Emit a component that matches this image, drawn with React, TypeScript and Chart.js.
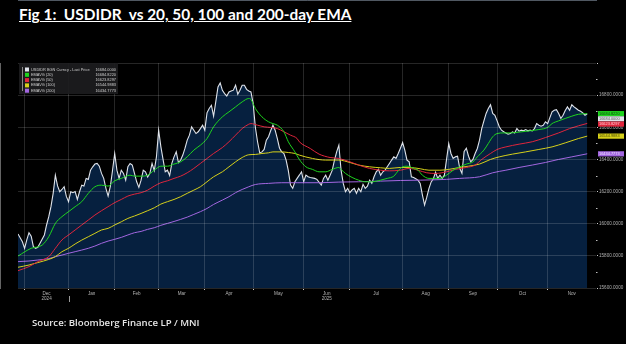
import React, { useEffect, useRef } from "react";
import { Chart, registerables } from "chart.js";

Chart.register(...registerables);

// ---- axis / label data ----
const monthLabels = ["Dec", "Jan", "Feb", "Mar", "Apr", "May", "Jun", "Jul", "Aug", "Sep", "Oct", "Nov"];
const monthStarts = [3, 23, 44, 64, 85, 107, 130, 151, 175, 196, 218, 241]; // trading-day index of month starts
const yearLabels = ["2024", "2025"];
const yearUnderMonth = [0, 6];
const xMaxDay = 263;
const yMin = 15600;
const yMax = 17000;
const yStep = 200;

// ---- series (trading-day index, IDR) ----
const priceDays = [0,2,3,4,5,6,7,8,9,10,12,13,14,15,16,17,18,19,20,21,22,23,24,25,26,27,28,29,30,31,32,33,34,35,36,37,38,39,40,41,42,43,44,45,46,47,48,49,50,51,52,53,54,55,56,57,58,59,60,61,62,63,64,65,66,67,68,69,70,71,72,73,74,75,76,77,78,79,80,81,82,83,84,85,86,87,88,89,90,91,92,93,94,95,96,97,98,99,100,101,102,103,104,105,106,107,108,109,110,111,112,113,114,115,116,117,118,119,120,121,122,123,124,125,126,127,128,129,130,131,132,133,135,136,138,139,140,141,142,143,144,145,146,147,148,149,150,151,152,153,154,155,156,157,158,159,160,161,162,163,164,165,166,167,168,169,170,171,172,173,174,175,176,177,178,179,180,181,182,183,184,185,186,187,188,189,190,191,192,193,194,195,196,197,198,199,200,201,202,203,204,205,206,207,208,209,210,211,212,213,214,215,216,217,218,219,220,221,222,223,224,225,226,227,228,229,230,231,232,233,234,235,236,237,238,239,240,241,242,243,244,245,246,247,248,249,250,251,252,253,254,255,256,257,258,259];
const priceValues = [15936,15888,15847,15899,15944,15923,15857,15847,15853,15878,15930,15992,16044,16106,16189,16302,16235,16199,16213,16230,16170,16137,16199,16193,16200,16151,16199,16240,16234,16282,16276,16333,16354,16371,16375,16358,16313,16282,16220,16172,16230,16330,16437,16333,16282,16333,16313,16271,16354,16375,16365,16313,16261,16226,16271,16333,16323,16290,16313,16375,16330,16416,16582,16480,16400,16323,16333,16300,16375,16416,16447,16380,16396,16427,16470,16520,16551,16603,16582,16561,16572,16592,16613,16582,16690,16717,16737,16670,16760,16851,16876,16830,16810,16795,16820,16826,16831,16862,16806,16831,16862,16862,16836,16826,16820,16748,16600,16510,16440,16447,16462,16520,16541,16580,16613,16582,16530,16470,16447,16437,16396,16330,16240,16220,16261,16282,16302,16323,16261,16302,16292,16288,16282,16276,16240,16282,16302,16271,16302,16333,16396,16447,16489,16333,16251,16199,16220,16193,16210,16220,16189,16220,16199,16245,16220,16234,16271,16251,16292,16323,16338,16302,16323,16333,16354,16375,16396,16416,16406,16437,16470,16505,16458,16396,16385,16292,16287,16280,16271,16251,16180,16116,16165,16220,16260,16280,16320,16282,16302,16282,16302,16400,16499,16437,16406,16416,16420,16345,16313,16450,16470,16420,16385,16400,16437,16468,16520,16592,16640,16686,16717,16740,16686,16675,16640,16603,16582,16572,16565,16557,16561,16572,16565,16592,16576,16582,16578,16586,16578,16582,16578,16592,16623,16613,16607,16613,16634,16623,16660,16696,16706,16710,16686,16655,16675,16705,16727,16706,16740,16727,16717,16706,16700,16690,16675,16684];

const ema20Days = [0,6,11,14,17,20,23,26,29,32,35,38,41,44,47,51,53,56,59,62,65,68,71,74,77,80,83,86,89,93,96,99,102,105,106,108,111,114,116,118,121,123,126,128,131,134,137,140,143,146,147,149,152,155,158,161,165,168,171,173,175,177,180,182,184,187,189,192,195,198,201,204,207,209,212,214,216,218,221,224,228,233,237,241,243,246,249,252,255,259];
const ema20Values = [15799,15847,15867,15919,16002,16044,16075,16106,16137,16189,16230,16240,16234,16267,16282,16302,16296,16296,16302,16333,16358,16358,16371,16385,16416,16458,16489,16530,16603,16665,16696,16727,16758,16779,16773,16717,16665,16634,16623,16613,16572,16510,16447,16400,16354,16338,16323,16323,16338,16350,16338,16313,16288,16271,16261,16261,16271,16282,16296,16329,16354,16358,16344,16333,16302,16282,16282,16282,16302,16333,16354,16371,16385,16416,16458,16499,16541,16561,16565,16565,16570,16578,16586,16599,16623,16640,16655,16669,16681,16685];

const ema50Days = [0,5,9,14,17,20,23,26,29,32,35,38,41,44,47,50,53,56,59,62,65,68,71,74,77,80,83,86,89,93,96,99,102,105,106,109,112,115,118,121,124,127,128,133,137,142,146,151,155,160,165,169,174,178,182,186,190,195,199,204,208,211,215,218,222,228,234,240,246,251,255,259];
const ema50Values = [15708,15733,15764,15795,15847,15899,15930,15961,15992,16023,16054,16081,16106,16131,16151,16172,16184,16193,16209,16234,16255,16267,16282,16296,16317,16344,16375,16406,16437,16474,16510,16551,16592,16619,16623,16613,16603,16599,16592,16572,16551,16530,16510,16468,16433,16412,16406,16385,16365,16344,16333,16329,16333,16344,16333,16317,16313,16323,16338,16350,16365,16400,16437,16462,16478,16495,16510,16536,16565,16592,16609,16624];

const ema100Days = [0,5,9,14,17,20,23,26,29,32,35,38,41,44,47,50,53,56,59,62,65,68,71,74,77,80,83,86,89,93,96,99,102,105,108,111,114,116,120,123,126,128,134,140,146,151,155,160,165,169,174,178,183,187,192,196,201,205,210,215,219,225,231,237,243,249,255,259];
const ema100Values = [15729,15743,15758,15778,15795,15826,15847,15874,15898,15919,15940,15961,15971,15992,16012,16033,16048,16064,16081,16099,16122,16137,16151,16168,16189,16209,16230,16261,16292,16323,16354,16385,16412,16429,16431,16437,16441,16447,16447,16443,16437,16427,16406,16396,16396,16381,16365,16354,16348,16344,16350,16350,16342,16333,16333,16338,16350,16358,16371,16400,16416,16433,16447,16462,16478,16503,16530,16545];

const ema200Days = [0,5,9,14,17,20,23,26,29,32,35,38,41,44,47,50,53,56,59,62,65,68,71,74,77,80,83,86,89,93,96,99,102,105,108,114,120,127,137,146,155,165,174,183,195,201,210,216,222,228,234,240,246,252,259];
const ema200Values = [15764,15768,15774,15783,15795,15805,15816,15826,15836,15847,15861,15878,15892,15903,15915,15930,15944,15952,15965,15975,15990,16002,16014,16027,16041,16058,16075,16095,16120,16147,16168,16193,16213,16230,16244,16251,16255,16255,16255,16259,16261,16265,16269,16271,16276,16282,16292,16317,16333,16350,16365,16381,16400,16416,16435];

// ---- legend / last values ----
const legendNames = ["USDIDR BGN Curncy - Last Price", "EMAVG (20)", "EMAVG (50)", "EMAVG (100)", "EMAVG (200)"];
const legendValues = [16684.0, 16684.822, 16623.8297, 16544.9883, 16434.7773];
const seriesColors = ["#dfe3ea", "#1ed41e", "#e0253c", "#d6d01a", "#a266e0"];
const tagTextColors = ["#555555", "#0b3d0b", "#ffd0d6", "#4a4800", "#f0e4ff"];

const pairs = (xs: number[], ys: number[]) => xs.map((x, i) => ({ x, y: ys[i] }));

const overlayPlugin = {
  id: "overlay",
  afterDraw(chart: any) {
    const ctx = chart.ctx;
    const xs = chart.scales.x;
    const ys = chart.scales.y;
    const area = chart.chartArea;
    ctx.save();

    // x month labels
    ctx.font = '4.6px "Liberation Sans"';
    ctx.fillStyle = "#b5b5b5";
    ctx.textAlign = "center";
    ctx.textBaseline = "middle";
    monthStarts.forEach((s, i) => {
      const e = i + 1 < monthStarts.length ? monthStarts[i + 1] : xMaxDay;
      const x = xs.getPixelForValue((s + e) / 2);
      ctx.fillText(monthLabels[i], x, area.bottom + 6);
    });
    yearLabels.forEach((lbl, i) => {
      const m = yearUnderMonth[i];
      const s = monthStarts[m];
      const e = m + 1 < monthStarts.length ? monthStarts[m + 1] : xMaxDay;
      ctx.fillText(lbl, xs.getPixelForValue((s + e) / 2), area.bottom + 11);
    });
    // year separator at Jan
    const jx = Math.round(xs.getPixelForValue(monthStarts[1])) + 0.5;
    ctx.strokeStyle = "#9a9a9a";
    ctx.lineWidth = 1;
    ctx.beginPath();
    ctx.moveTo(jx, area.bottom + 8);
    ctx.lineTo(jx, area.bottom + 14);
    ctx.stroke();

    // minor y ticks
    ctx.strokeStyle = "#bdbdbd";
    for (let v = yMin + yStep / 2; v < yMax; v += yStep) {
      const y = Math.round(ys.getPixelForValue(v)) + 0.5;
      ctx.beginPath();
      ctx.moveTo(area.right, y);
      ctx.lineTo(area.right + 1.5, y);
      ctx.stroke();
    }

    // legend box
    const lx = area.left + 1;
    const ly = area.top;
    ctx.fillStyle = "rgba(28,28,30,0.92)";
    ctx.fillRect(lx, ly, 99, 31);
    ctx.strokeStyle = "#8a8a8a";
    ctx.beginPath();
    ctx.moveTo(lx + 3.5, ly + 4);
    ctx.lineTo(lx + 3.5, ly + 28);
    ctx.stroke();
    ctx.font = '3.9px "Liberation Sans"';
    ctx.textBaseline = "middle";
    legendNames.forEach((name, i) => {
      const y = ly + 6.5 + i * 5.3;
      ctx.fillStyle = seriesColors[i];
      ctx.fillRect(lx + 6, y - 2, 4, 4);
      ctx.fillStyle = "#cfcfcf";
      ctx.textAlign = "left";
      ctx.fillText(name, lx + 12, y);
      ctx.textAlign = "right";
      ctx.fillText(legendValues[i].toFixed(4), lx + 97, y);
    });

    // right-side value tags
    const tags = legendValues
      .map((v, i) => ({ v, i, y: ys.getPixelForValue(v) }))
      .sort((a, b) => a.y - b.y || b.v - a.v);
    for (let k = 1; k < tags.length; k++) {
      if (tags[k].y < tags[k - 1].y + 5.2) tags[k].y = tags[k - 1].y + 5.2;
    }
    ctx.font = '3.9px "Liberation Sans"';
    ctx.textAlign = "left";
    tags.forEach((t) => {
      ctx.fillStyle = seriesColors[t.i];
      ctx.fillRect(area.right + 2, t.y - 2.6, 26, 5.2);
      ctx.fillStyle = tagTextColors[t.i];
      ctx.fillText(t.v.toFixed(4), area.right + 3, t.y + 0.2);
    });
    ctx.restore();
  },
};

export default function App() {
  const ref = useRef<HTMLCanvasElement>(null);

  useEffect(() => {
    document.body.style.margin = "0";
    document.body.style.background = "#000";
    const gridColor = "rgba(255,255,255,0.15)";
    const line = (data: any[], color: string, order: number) => ({
      data,
      borderColor: color,
      borderWidth: 1,
      pointRadius: 0,
      fill: false,
      cubicInterpolationMode: "monotone",
      order,
    });
    const chart = new Chart(ref.current!, {
      type: "line",
      data: {
        datasets: [
          {
            data: pairs(priceDays, priceValues),
            borderColor: seriesColors[0],
            borderWidth: 1.1,
            pointRadius: 0,
            fill: "start",
            backgroundColor: "#06203f",
            tension: 0,
            order: 5,
          },
          line(pairs(ema200Days, ema200Values), seriesColors[4], 4),
          line(pairs(ema100Days, ema100Values), seriesColors[3], 3),
          line(pairs(ema50Days, ema50Values), seriesColors[2], 2),
          line(pairs(ema20Days, ema20Values), seriesColors[1], 1),
        ] as any,
      },
      options: {
        animation: false,
        responsive: false,
        maintainAspectRatio: false,
        layout: { padding: { left: 18, top: 63, right: 0, bottom: 0 } },
        plugins: { legend: { display: false }, tooltip: { enabled: false } },
        scales: {
          x: {
            type: "linear",
            min: 0,
            max: xMaxDay,
            afterBuildTicks: (s: any) => {
              s.ticks = monthStarts.map((v) => ({ value: v }));
            },
            afterFit: (s: any) => {
              s.height = 56;
            },
            ticks: { display: false },
            grid: { color: gridColor, tickColor: "#d0d0d0", tickLength: 2, z: 1 },
            border: { color: "#9fb0c4", width: 1 },
          },
          y: {
            position: "right",
            min: yMin,
            max: yMax,
            afterFit: (s: any) => {
              s.width = 30;
            },
            ticks: {
              stepSize: yStep,
              color: "#b0b0b0",
              font: { size: 4.6, family: "Liberation Sans" },
              padding: 1,
              callback: (v: any) => (Number(v) === yMax ? "" : Number(v).toFixed(4)),
            },
            grid: { color: gridColor, tickColor: "#d0d0d0", tickLength: 2, z: 1 },
            border: { color: "#c8c8c8", width: 1 },
          },
        },
      },
      plugins: [overlayPlugin],
    } as any);
    return () => chart.destroy();
  }, []);

  return (
    <div style={{ position: "relative", width: 626, height: 344, background: "#000", overflow: "hidden" }}>
      <div
        style={{
          position: "absolute",
          left: 19,
          top: 5,
          color: "#fff",
          fontFamily: "Lato, 'Open Sans', sans-serif",
          fontWeight: 700,
          fontSize: 15.4,
          textDecoration: "underline",
          whiteSpace: "pre",
        }}
      >
        {"Fig 1:  USDIDR  vs 20, 50, 100 and 200-day EMA"}
      </div>
      <canvas ref={ref} width={626} height={344} style={{ position: "absolute", left: 0, top: 0, display: "block" }} />
      <div
        style={{
          position: "absolute",
          left: 32,
          top: 316,
          color: "#e6e6e6",
          fontFamily: "'Open Sans', sans-serif",
          fontWeight: 600,
          fontSize: 9.6,
          whiteSpace: "pre",
        }}
      >
        Source: Bloomberg Finance LP / MNI
      </div>
    </div>
  );
}
